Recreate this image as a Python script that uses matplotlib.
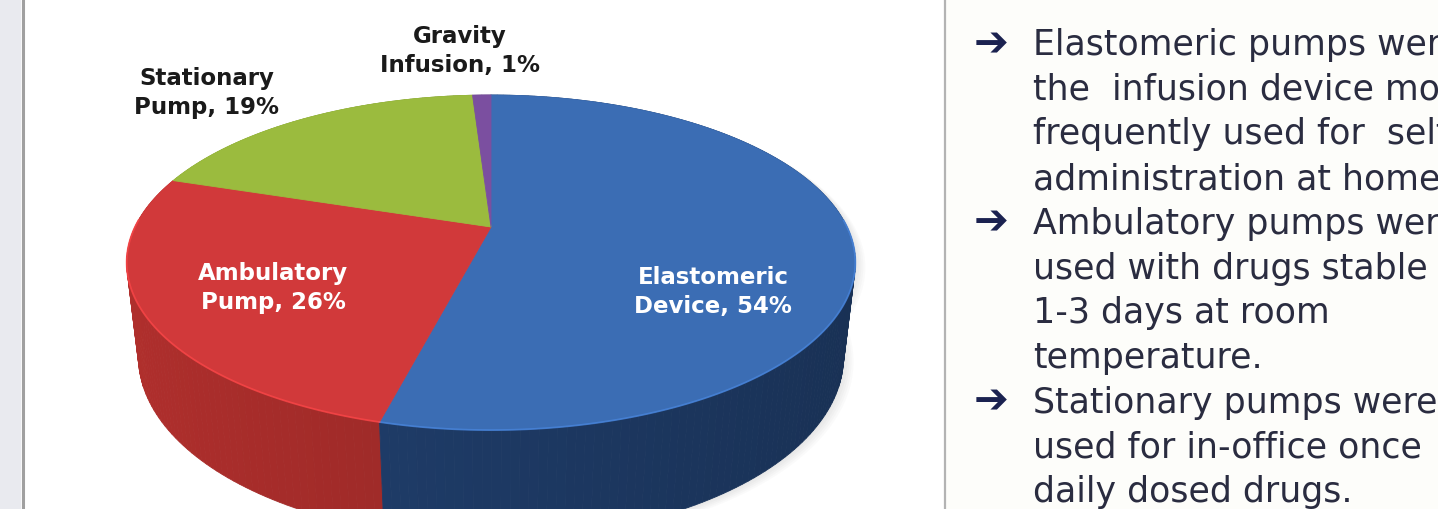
import numpy as np
import matplotlib
matplotlib.use('Agg')
import matplotlib.pyplot as plt
from matplotlib.patches import Polygon
import matplotlib.colors as mcolors

# pie data (clockwise from 12 o'clock)
categories = ['Elastomeric\nDevice', 'Ambulatory\nPump', 'Stationary\nPump', 'Gravity\nInfusion']
shares = [54, 26, 19, 1]
top_colors = ['#3b6db4', '#d1393a', '#9bbb3e', '#7b4fa0']
side_colors = ['#1d3963', '#9a2927', '#728c2c', '#553877']
label_colors = ['white', 'white', '#1a1a1a', '#1a1a1a']
label_pos = [(713, 292), (273, 288), (207, 93), (460, 51)]

# bullet notes on the right
notes = [
    ['Elastomeric pumps were', 'the  infusion device most', 'frequently used for  self-', 'administration at home.'],
    ['Ambulatory pumps were', 'used with drugs stable', '1-3 days at room', 'temperature.'],
    ['Stationary pumps were', 'used for in-office once', 'daily dosed drugs.'],
]

W, H = 1438, 509
fig = plt.figure(figsize=(W / 100, H / 100), dpi=100)
ax = fig.add_axes([0, 0, 1, 1])
ax.set_xlim(0, W)
ax.set_ylim(H, 0)
ax.axis('off')

# panel frame
ax.axvspan(0, 20, color='#e9eaef', zorder=0)
ax.axvspan(946, W, color='#fdfdfa', zorder=0)
ax.axvline(22.5, color='#a0a0a0', lw=2.2, zorder=1)
ax.axvline(945, color='#b3b3b3', lw=1.6, zorder=1)

# simple perspective camera for the 3d pie
cx, cy = 491, 227
focal, dist = 1499, 4.21
tilt = np.radians(26.7)
thick = 0.3


def project(x, y, z):
    c, s = np.cos(tilt), np.sin(tilt)
    yp = y * c + z * s
    dep = dist - y * s + z * c
    return cx + x * focal / dep, cy - yp * focal / dep


total = float(sum(shares))
bounds = np.concatenate([[0], np.cumsum(shares)]) / total * 2 * np.pi

# faint shadow to the lower right
th_all = np.linspace(0, 2 * np.pi, 300)
bx, by = project(np.sin(th_all), -thick, np.cos(th_all))
tx, ty = project(np.sin(th_all), 0.0, np.cos(th_all))
for k in range(1, 6):
    ax.add_patch(Polygon(np.column_stack([np.r_[tx, bx] + 2 * k, np.r_[ty, by] + k]),
                         closed=True, fc='#707070', ec='none', alpha=0.03, zorder=2))

# outer walls, drawn far to near
quads = []
for i in range(len(shares)):
    th = np.linspace(bounds[i], bounds[i + 1], max(3, int(shares[i] * 3)))
    base = np.array(mcolors.to_rgb(side_colors[i]))
    for a, b in zip(th[:-1], th[1:]):
        t = np.array([a, b])
        x0, y0 = project(np.sin(t), 0.0, np.cos(t))
        x1, y1 = project(np.sin(t), -thick, np.cos(t))
        pts = np.column_stack([np.r_[x0, x1[::-1]], np.r_[y0, y1[::-1]]])
        mid = 0.5 * (a + b)
        col = np.clip(base * (1.0 - 0.15 * np.sin(mid)), 0, 1)
        quads.append((np.cos(mid), pts, col))
for _, pts, col in sorted(quads, key=lambda q: -q[0]):
    ax.add_patch(Polygon(pts, closed=True, fc=col, ec=col, lw=0.6, zorder=3))

# top faces
for i in range(len(shares)):
    th = np.linspace(bounds[i], bounds[i + 1], max(3, int(shares[i] * 4)))
    x0, y0 = project(np.sin(th), 0.0, np.cos(th))
    pts = np.column_stack([np.r_[cx, x0], np.r_[cy, y0]])
    ax.add_patch(Polygon(pts, closed=True, fc=top_colors[i], ec=top_colors[i], lw=0.6, zorder=4))
    # light rim along the front edge
    front = np.cos(th) < 0.05
    if front.any():
        lite = np.clip(np.array(mcolors.to_rgb(top_colors[i])) * 1.25, 0, 1)
        ax.plot(x0[front], y0[front], color=lite, lw=1.3, alpha=0.7, zorder=5)

# data labels
for cat, val, (lx, ly), lc in zip(categories, shares, label_pos, label_colors):
    ax.text(lx, ly, f'{cat}, {val}%', ha='center', va='center', fontsize=16.5,
            fontweight='bold', color=lc, linespacing=1.3, zorder=6)

# bullet text
line_gap = 44.7
y = 43
for block in notes:
    ax.text(991, y + 1, '\u2794', ha='center', va='center', fontsize=30,
            fontweight='bold', color='#1b2250', zorder=6)
    for line in block:
        ax.text(1033, y + 12, line, ha='left', va='baseline', fontsize=25,
                color='#2a2c40', zorder=6)
        y += line_gap

fig.savefig('out.png', dpi=100, facecolor='white')
